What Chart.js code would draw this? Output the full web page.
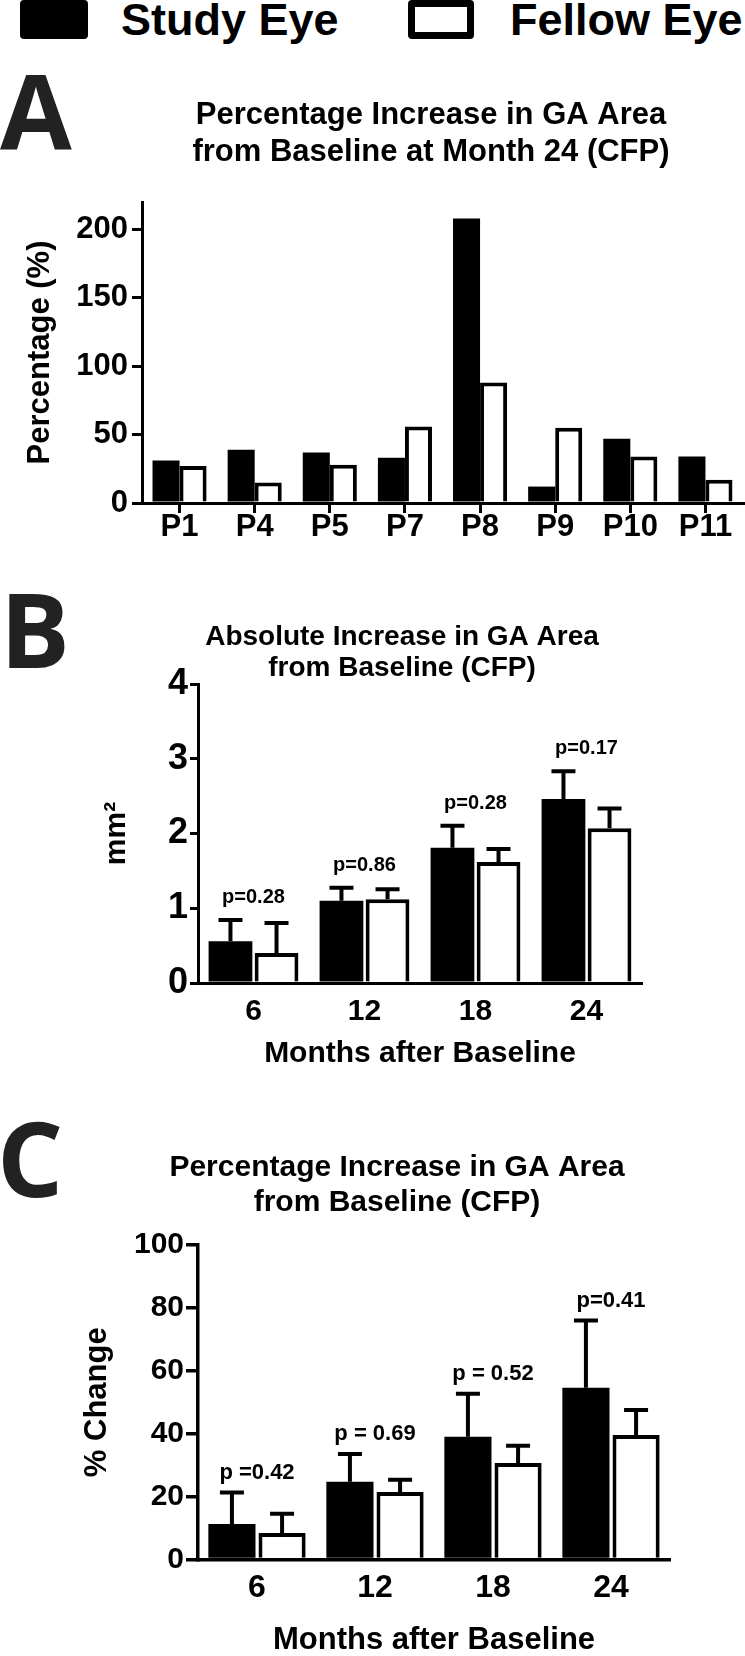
<!DOCTYPE html>
<html>
<head>
<meta charset="utf-8">
<script src="https://cdn.jsdelivr.net/npm/chart.js@4"></script>
<style>
html, body { margin:0; padding:0; background:#fff; width:745px; height:1656px; overflow:hidden; position:relative; }
canvas { position:absolute; left:0; }
.letter { position:absolute; left:0; font-family:'Open Sans', 'DejaVu Sans', sans-serif; font-weight:700; font-size:104px; line-height:104px; color:#222; margin:0; }
.legtext { position:absolute; top:-3px; font-family:'Liberation Sans', Arial, sans-serif; font-weight:bold; font-size:45px; line-height:45px; color:#000; white-space:nowrap; }
.legbox { position:absolute; top:0; height:39px; box-sizing:border-box; border-radius:4px; }
</style>
</head>
<body>
<div class="legbox" style="left:20px;width:68px;background:#000;"></div>
<div class="legtext" style="left:121px;">Study Eye</div>
<div class="legbox" style="left:408px;width:66px;background:#fff;border:7px solid #000;"></div>
<div class="legtext" style="left:510px;">Fellow Eye</div>

<div class="letter" style="top:57.6px;">A</div>
<div class="letter" style="top:575.6px;">B</div>
<div class="letter" style="top:1104.6px;left:-3px;">C</div>

<canvas id="cA" width="862" height="477" style="top:86px;"></canvas>
<canvas id="cB" width="804" height="468" style="top:612px;"></canvas>
<canvas id="cC" width="794" height="519" style="top:1140px;"></canvas>

<script>
// ---------- data ----------
const categoriesA = ['P1', 'P4', 'P5', 'P7', 'P8', 'P9', 'P10', 'P11'];
const studyA  = [31, 39, 37, 33, 208, 12, 47, 34];
const fellowA = [27, 15, 28, 56, 88, 55, 34, 17];
const yTicksA = [0, 50, 100, 150, 200];

const months = ['6', '12', '18', '24'];

const studyB     = [0.56, 1.10, 1.81, 2.46];
const studyErrB  = [0.31, 0.20, 0.32, 0.40];
const fellowB    = [0.40, 1.12, 1.62, 2.07];
const fellowErrB = [0.43, 0.16, 0.20, 0.29];
const pLabelsB   = ['p=0.28', 'p=0.86', 'p=0.28', 'p=0.17'];
const yTicksB    = [0, 1, 2, 3, 4];

const studyC     = [11.3, 24.7, 39.0, 54.6];
const studyErrC  = [10.6, 9.5, 14.3, 22.0];
const fellowC    = [8.4, 21.5, 30.7, 39.6];
const fellowErrC = [6.8, 4.5, 6.1, 8.6];
const pLabelsC   = ['p =0.42', 'p = 0.69', 'p = 0.52', 'p=0.41'];
const yTicksC    = [0, 20, 40, 60, 80, 100];

const titleA = ['Percentage Increase in GA Area', 'from Baseline at Month 24 (CFP)'];
const titleB = ['Absolute Increase in GA Area', 'from Baseline (CFP)'];
const titleC = ['Percentage Increase in GA Area', 'from Baseline (CFP)'];

// ---------- styling ----------
const SANS = "'Liberation Sans', Arial, Helvetica, sans-serif";
Chart.defaults.font.family = SANS;
Chart.defaults.font.weight = 'bold';
Chart.defaults.color = '#000';
Chart.defaults.animation = false;

function spacer(w) {
  return {
    type: 'linear', position: 'right', display: true,
    grid: { display: false }, border: { display: false }, ticks: { display: false },
    afterFit(s) { s.width = w; }
  };
}

const errorBarPlugin = {
  id: 'errbars',
  afterDatasetsDraw(chart, args, opts) {
    const ctx = chart.ctx;
    const y = chart.scales.y;
    const lw = opts.lineWidth;
    ctx.save();
    ctx.strokeStyle = '#000';
    ctx.lineWidth = lw;
    ctx.lineCap = 'butt';
    const tops = [];
    const xs = [];
    chart.data.datasets.forEach((ds, di) => {
      const meta = chart.getDatasetMeta(di);
      meta.data.forEach((bar, i) => {
        const v = ds.data[i];
        const e = ds.errors[i];
        const yTop = y.getPixelForValue(v + e);
        const yBase = y.getPixelForValue(v);
        ctx.beginPath();
        ctx.moveTo(bar.x, yBase);
        ctx.lineTo(bar.x, yTop + lw / 2);
        ctx.moveTo(bar.x - opts.capWidth / 2, yTop + lw / 2);
        ctx.lineTo(bar.x + opts.capWidth / 2, yTop + lw / 2);
        ctx.stroke();
        tops[i] = tops[i] === undefined ? yTop : Math.min(tops[i], yTop);
        (xs[i] = xs[i] || []).push(bar.x);
      });
    });
    ctx.fillStyle = '#000';
    ctx.font = opts.font;
    ctx.textAlign = 'center';
    ctx.textBaseline = 'alphabetic';
    opts.labels.forEach((t, i) => {
      const cx = xs[i].reduce((a, b) => a + b, 0) / xs[i].length;
      ctx.fillText(t, cx, tops[i] - opts.offset);
    });
    ctx.restore();
  }
};

function barDatasets(study, fellow, cat, barP, errS, errF) {
  const s = { label: 'Study Eye', data: study, backgroundColor: '#000', borderColor: '#000', borderWidth: 0,
              categoryPercentage: cat, barPercentage: barP };
  const f = { label: 'Fellow Eye', data: fellow, backgroundColor: '#fff', borderColor: '#000', borderWidth: 4,
              categoryPercentage: cat, barPercentage: barP };
  if (errS) { s.errors = errS; f.errors = errF; }
  return [s, f];
}

// ---------- Panel A ----------
new Chart(document.getElementById('cA'), {
  type: 'bar',
  data: { labels: categoriesA, datasets: barDatasets(studyA, fellowA, 0.72, 1.0) },
  options: {
    responsive: false, animation: false,
    layout: { padding: 0 },
    plugins: {
      legend: { display: false }, tooltip: { enabled: false },
      title: { display: true, text: titleA, color: '#000',
               font: { size: 31, weight: 'bold', lineHeight: 1.2 }, padding: { top: 10.4, bottom: 31.2 } }
    },
    scales: {
      x: {
        grid: { display: true, drawOnChartArea: false, drawTicks: true, tickLength: 10, lineWidth: 3, color: '#000', offset: false },
        border: { display: true, width: 3, color: '#000', z: 1 },
        ticks: { font: { size: 31, weight: 'bold' }, padding: -4, color: '#000', maxRotation: 0, autoSkip: false },
        afterFit(s) { s.height = 60; }
      },
      y: {
        min: 0, max: 220,
        afterBuildTicks(s) { s.ticks = yTicksA.map(v => ({ value: v })); },
        grid: { drawOnChartArea: false, tickLength: 10, lineWidth: 3, color: '#000' },
        border: { display: true, width: 3, color: '#000', z: 1 },
        ticks: { font: { size: 31, weight: 'bold' }, padding: 4, color: '#000' },
        title: { display: true, text: 'Percentage (%)', color: '#000', font: { size: 31, weight: 'bold', lineHeight: 1.2 }, padding: { top: 21.4 } },
        afterFit(s) { s.width = 142; }
      },
      pad: spacer(119)
    }
  }
});

// ---------- Panel B ----------
new Chart(document.getElementById('cB'), {
  type: 'bar',
  data: { labels: months, datasets: barDatasets(studyB, fellowB, 0.83, 0.95, studyErrB, fellowErrB) },
  plugins: [errorBarPlugin],
  options: {
    responsive: false, animation: false,
    layout: { padding: 0 },
    plugins: {
      legend: { display: false }, tooltip: { enabled: false },
      title: { display: true, text: titleB, color: '#000',
               font: { size: 28, weight: 'bold', lineHeight: 1.1 }, padding: { top: 10, bottom: 0.4 } },
      errbars: { lineWidth: 4, capWidth: 24, labels: pLabelsB, font: "bold 20px 'Liberation Sans', Arial, sans-serif", offset: 15 }
    },
    scales: {
      x: {
        grid: { display: true, drawOnChartArea: false, drawTicks: false },
        border: { display: true, width: 3, color: '#000', z: 1 },
        ticks: { font: { size: 30, weight: 'bold' }, padding: 11, color: '#000', maxRotation: 0 },
        title: { display: true, text: 'Months after Baseline', color: '#000', font: { size: 30, weight: 'bold', lineHeight: 1.2 }, padding: { top: 0, bottom: 8 } },
        afterFit(s) { s.height = 97; }
      },
      y: {
        min: 0, max: 4,
        afterBuildTicks(s) { s.ticks = yTicksB.map(v => ({ value: v })); },
        grid: { drawOnChartArea: false, tickLength: 8, lineWidth: 3, color: '#000' },
        border: { display: true, width: 3, color: '#000', z: 1 },
        ticks: { font: { size: 36, weight: 'bold' }, padding: 2, color: '#000' },
        title: { display: true, text: 'mm²', color: '#000', font: { size: 30, weight: 'bold', lineHeight: 1.2 }, padding: { top: 99 } },
        afterFit(s) { s.width = 198; }
      },
      pad: spacer(162)
    }
  }
});

// ---------- Panel C ----------
new Chart(document.getElementById('cC'), {
  type: 'bar',
  data: { labels: months, datasets: barDatasets(studyC, fellowC, 0.85, 0.94, studyErrC, fellowErrC) },
  plugins: [errorBarPlugin],
  options: {
    responsive: false, animation: false,
    layout: { padding: 0 },
    plugins: {
      legend: { display: false }, tooltip: { enabled: false },
      title: { display: true, text: titleC, color: '#000',
               font: { size: 30, weight: 'bold', lineHeight: 1.17 }, padding: { top: 10.45, bottom: 24.35 } },
      errbars: { lineWidth: 4, capWidth: 24, labels: pLabelsC, font: "bold 22px 'Liberation Sans', Arial, sans-serif", offset: 12 }
    },
    scales: {
      x: {
        grid: { display: true, drawOnChartArea: false, drawTicks: false },
        border: { display: true, width: 3.5, color: '#000', z: 1 },
        ticks: { font: { size: 32, weight: 'bold' }, padding: 9.3, color: '#000', maxRotation: 0 },
        title: { display: true, text: 'Months after Baseline', color: '#000', font: { size: 31, weight: 'bold', lineHeight: 1.2 }, padding: { top: 0, bottom: 0 } },
        afterFit(s) { s.height = 99.5; }
      },
      y: {
        min: 0, max: 100,
        afterBuildTicks(s) { s.ticks = yTicksC.map(v => ({ value: v })); },
        grid: { drawOnChartArea: false, tickLength: 12, lineWidth: 3.5, color: '#000' },
        border: { display: true, width: 3.5, color: '#000', z: 1 },
        ticks: { font: { size: 30, weight: 'bold' }, padding: 2, color: '#000' },
        title: { display: true, text: '% Change', color: '#000', font: { size: 31, weight: 'bold', lineHeight: 1.2 }, padding: { top: 79 } },
        afterFit(s) { s.width = 198; }
      },
      pad: spacer(124)
    }
  }
});
</script>
</body>
</html>
